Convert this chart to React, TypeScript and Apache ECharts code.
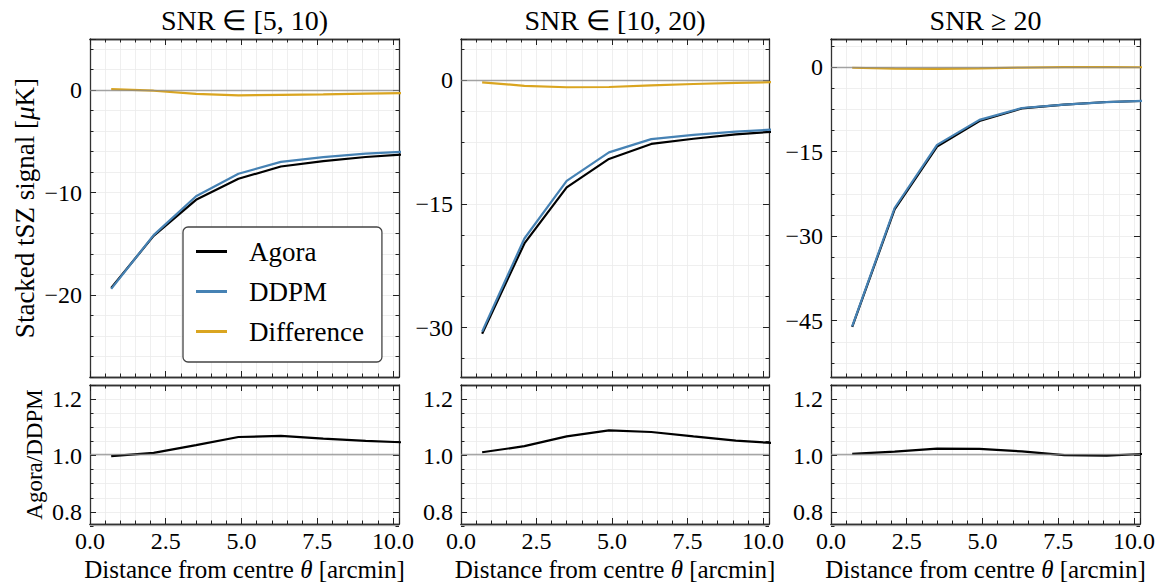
import React, { useEffect, useRef } from "react";
import * as echarts from "echarts";

// ---------- data ----------
const THETA = [0.7, 2.1, 3.5, 4.9, 6.3, 7.7, 9.1, 10.5];

const agora1 = [-19.3, -14.22, -10.7, -8.65, -7.45, -6.92, -6.52, -6.25];
const ddpm1 = [-19.4, -14.15, -10.35, -8.15, -7.0, -6.53, -6.2, -5.98];
const diff1 = [0.1, -0.05, -0.35, -0.5, -0.45, -0.4, -0.33, -0.28];
const ratio1 = [0.994, 1.006, 1.034, 1.063, 1.067, 1.057, 1.049, 1.043];

const agora2 = [-30.75, -19.8, -13.0, -9.55, -7.73, -7.1, -6.56, -6.2];
const ddpm2 = [-30.5, -19.2, -12.2, -8.75, -7.15, -6.63, -6.23, -5.95];
const diff2 = [-0.25, -0.68, -0.85, -0.82, -0.62, -0.46, -0.33, -0.22];
const ratio2 = [1.008, 1.03, 1.065, 1.087, 1.081, 1.065, 1.05, 1.04];

const agora3 = [-46.1, -25.25, -14.1, -9.55, -7.33, -6.64, -6.18, -5.97];
const ddpm3 = [-46.0, -25.0, -13.8, -9.35, -7.25, -6.65, -6.2, -5.95];
const diff3 = [-0.1, -0.25, -0.3, -0.2, -0.08, 0.01, 0.02, -0.02];
const ratio3 = [1.002, 1.01, 1.021, 1.02, 1.011, 0.998, 0.996, 1.003];

const TITLES = ["SNR \u2208 [5, 10)", "SNR \u2208 [10, 20)", "SNR \u2265 20"];
const LEGEND_NAMES = ["Agora", "DDPM", "Difference"];

const X_RANGE = [0, 10.2];
const X_MAJOR = 2.5;
const X_MINOR = 0.5;
const TOP_RANGES = [
  [-28, 5],
  [-36, 5],
  [-55, 5],
];
const TOP_MAJOR = [10, 15, 15];
const TOP_MINOR = [2, 3.75, 3.75];
const RATIO_RANGE = [0.75, 1.25];
const RATIO_MAJOR = 0.2;
const RATIO_MINOR = 0.05;

// ---------- styling / layout ----------
const FONT = "Liberation Serif";
const FRAME = "#333333";
const TICK = "#222222";
const GRIDC = "#ebebeb";
const C_AGORA = "#000000";
const C_DDPM = "#4682b4";
const C_DIFF = "#daa520";

const COL_LEFT = [90, 461, 831];
const COL_W = [309, 308, 309];
const TOP_Y = 39;
const TOP_H = 338;
const BOT_Y = 385;
const BOT_H = 141;

const snap = (v: number) => Math.round(v * 1e6) / 1e6;
const isMult = (v: number, s: number) => Math.abs(v / s - Math.round(v / s)) < 1e-6;
const minus = (s: string) => s.replace("-", "\u2212");

function buildOption() {
  const grids: any[] = [];
  const xAxes: any[] = [];
  const yAxes: any[] = [];
  const series: any[] = [];

  const addGrid = (left: number, top: number, width: number, height: number) => {
    grids.push({ left, top, width, height, containLabel: false });
    return grids.length - 1;
  };

  const labelStyle = { fontFamily: FONT, fontSize: 24, color: "#000" };

  function panel(p: any) {
    const { left, top, width, height, yMin, yMax, yMajor, yMinor } = p;
    const g = addGrid(left, top, width, height);
    const xBase = xAxes.length;
    const xAx = (pos: string, major: boolean, labels: boolean) => ({
      type: "value",
      gridIndex: g,
      position: pos,
      min: X_RANGE[0],
      max: X_RANGE[1],
      interval: major ? X_MAJOR : X_MINOR,
      axisLine: { show: true, onZero: false, lineStyle: { color: FRAME, width: 1.3 } },
      axisTick: { show: true, inside: true, length: major ? 6 : 3.5, lineStyle: { color: TICK, width: 1 } },
      splitLine: { show: !major && pos === "bottom", lineStyle: { color: GRIDC, width: 0.8 } },
      axisLabel: labels
        ? {
            show: true,
            margin: 5,
            ...labelStyle,
            formatter: (v: number) => (isMult(v, X_MAJOR) ? v.toFixed(1) : ""),
          }
        : { show: false },
      ...(labels
        ? {
            name: "Distance from centre {i|\u03b8} [arcmin]",
            nameLocation: "middle",
            nameGap: 33,
            nameTextStyle: {
              fontFamily: FONT,
              fontSize: 25,
              lineHeight: 25,
              color: "#000",
              rich: { i: { fontFamily: FONT, fontSize: 25, lineHeight: 25, fontStyle: "italic", color: "#000" } },
            },
          }
        : {}),
    });
    xAxes.push(xAx("bottom", false, false));
    xAxes.push(xAx("bottom", true, !!p.xLabels));
    xAxes.push(xAx("top", false, false));
    xAxes.push(xAx("top", true, false));

    const yBase = yAxes.length;
    const yFrame = (pos: string) => ({
      type: "value",
      gridIndex: g,
      position: pos,
      min: yMin,
      max: yMax,
      axisLine: { show: true, onZero: false, lineStyle: { color: FRAME, width: 1.3 } },
      axisTick: { show: false },
      axisLabel: { show: false },
      splitLine: { show: false },
      ...(pos === "left" && p.yName
        ? {
            name: p.yName,
            nameLocation: "middle",
            nameGap: p.yNameGap,
            nameTextStyle: {
              fontFamily: FONT,
              fontSize: p.yNameSize,
              lineHeight: p.yNameSize,
              color: "#000",
              rich: {
                i: { fontFamily: FONT, fontSize: p.yNameSize, lineHeight: p.yNameSize, fontStyle: "italic", color: "#000" },
              },
            },
          }
        : {}),
    });
    yAxes.push(yFrame("left"));
    yAxes.push(yFrame("right"));

    // minor ticks grid
    const mMin = snap(Math.ceil(yMin / yMinor - 1e-9) * yMinor);
    const gm = addGrid(left, top, width, (height * (yMax - mMin)) / (yMax - yMin));
    xAxes.push({ type: "value", gridIndex: gm, show: false, min: 0, max: 1 });
    const yMinorAx = (pos: string) => ({
      type: "value",
      gridIndex: gm,
      position: pos,
      min: mMin,
      max: yMax,
      interval: yMinor,
      axisLine: { show: false, onZero: false },
      axisTick: { show: true, inside: true, length: 3.5, lineStyle: { color: TICK, width: 1 } },
      axisLabel: { show: false },
      splitLine: { show: pos === "left", lineStyle: { color: GRIDC, width: 0.8 } },
    });
    yAxes.push(yMinorAx("left"));
    yAxes.push(yMinorAx("right"));

    // major ticks grid
    const jMin = snap(Math.ceil(yMin / yMajor - 1e-9) * yMajor);
    const gj = addGrid(left, top, width, (height * (yMax - jMin)) / (yMax - yMin));
    xAxes.push({ type: "value", gridIndex: gj, show: false, min: 0, max: 1 });
    const yMajorAx = (pos: string) => ({
      type: "value",
      gridIndex: gj,
      position: pos,
      min: jMin,
      max: yMax,
      interval: yMajor,
      axisLine: { show: false, onZero: false },
      axisTick: { show: true, inside: true, length: 6, lineStyle: { color: TICK, width: 1 } },
      axisLabel:
        pos === "left"
          ? {
              show: true,
              margin: 8,
              ...labelStyle,
              formatter: (v: number) => (isMult(v, yMajor) ? minus(p.fmt(v)) : ""),
            }
          : { show: false },
      splitLine: { show: false },
    });
    yAxes.push(yMajorAx("left"));
    yAxes.push(yMajorAx("right"));

    p.lines.forEach((ln: any, i: number) => {
      const s: any = {
        type: "line",
        name: ln.name,
        xAxisIndex: xBase,
        yAxisIndex: yBase,
        data: THETA.map((x, k) => [x, ln.values[k]]),
        symbol: "none",
        showSymbol: false,
        clip: true,
        silent: true,
        lineStyle: { color: ln.color, width: 2.2 },
        itemStyle: { color: ln.color },
        z: 2 + i,
      };
      if (i === p.lines.length - 1) {
        s.markLine = {
          silent: true,
          symbol: ["none", "none"],
          label: { show: false },
          lineStyle: { color: "#888888", width: 1.3, type: "solid", opacity: 0.75 },
          data: [{ yAxis: p.refLine }],
        };
      }
      series.push(s);
    });
  }

  const tops = [
    [agora1, ddpm1, diff1],
    [agora2, ddpm2, diff2],
    [agora3, ddpm3, diff3],
  ];
  const ratios = [ratio1, ratio2, ratio3];

  for (let c = 0; c < 3; c++) {
    panel({
      left: COL_LEFT[c],
      top: TOP_Y,
      width: COL_W[c],
      height: TOP_H,
      yMin: TOP_RANGES[c][0],
      yMax: TOP_RANGES[c][1],
      yMajor: TOP_MAJOR[c],
      yMinor: TOP_MINOR[c],
      fmt: (v: number) => String(Math.round(v)),
      xLabels: false,
      yName: c === 0 ? "Stacked tSZ signal [{i|\u03bc}K]" : undefined,
      yNameGap: 52,
      yNameSize: 27,
      refLine: 0,
      lines: [
        { name: "Agora", values: tops[c][0], color: C_AGORA },
        { name: "DDPM", values: tops[c][1], color: C_DDPM },
        { name: "Difference", values: tops[c][2], color: C_DIFF },
      ],
    });
    panel({
      left: COL_LEFT[c],
      top: BOT_Y,
      width: COL_W[c],
      height: BOT_H,
      yMin: RATIO_RANGE[0],
      yMax: RATIO_RANGE[1],
      yMajor: RATIO_MAJOR,
      yMinor: RATIO_MINOR,
      fmt: (v: number) => v.toFixed(1),
      xLabels: true,
      yName: c === 0 ? "Agora/DDPM" : undefined,
      yNameGap: 44,
      yNameSize: 23,
      refLine: 1,
      lines: [{ name: "Agora/DDPM", values: ratios[c], color: C_AGORA }],
    });
  }

  const centers = COL_LEFT.map((l, i) => l + COL_W[i] / 2);

  return {
    animation: false,
    textStyle: { fontFamily: FONT },
    grid: grids,
    xAxis: xAxes,
    yAxis: yAxes,
    series,
    legend: {
      data: LEGEND_NAMES,
      orient: "vertical",
      left: 183,
      top: 227,
      padding: [11, 18, 17, 13],
      itemGap: 13,
      itemWidth: 31,
      itemHeight: 3,
      icon: "rect",
      selectedMode: false,
      backgroundColor: "#ffffff",
      borderColor: "#444444",
      borderWidth: 1.3,
      borderRadius: 5,
      textStyle: { fontFamily: FONT, fontSize: 27, lineHeight: 27, color: "#000", padding: [0, 0, 0, 17] },
    },
    graphic: TITLES.map((t, i) => ({
      type: "text",
      x: centers[i],
      y: 20,
      style: {
        text: t,
        fontFamily: FONT,
        fontSize: 28,
        fill: "#000",
        align: "center",
        verticalAlign: "middle",
        textAlign: "center",
        textVerticalAlign: "middle",
      },
    })),
  };
}

export default function App() {
  const ref = useRef<HTMLDivElement>(null);
  useEffect(() => {
    if (!ref.current) return;
    const chart = echarts.init(ref.current, null, { renderer: "svg" });
    chart.setOption(buildOption() as any);
    return () => chart.dispose();
  }, []);
  return (
    <div
      ref={ref}
      style={{ position: "fixed", left: 0, top: 0, width: 1163, height: 583, background: "#fff" }}
    />
  );
}
